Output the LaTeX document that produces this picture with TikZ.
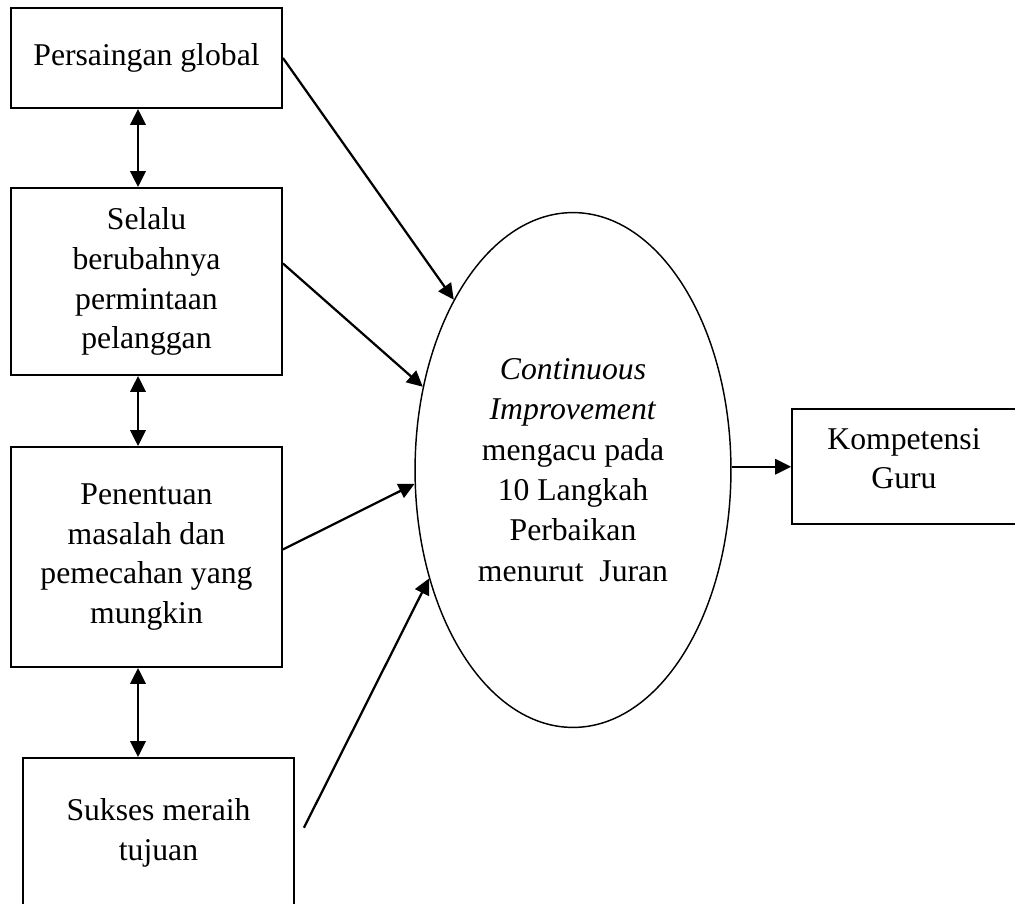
\documentclass[tikz,border=0pt]{standalone}
\usepackage{fontspec}
\setmainfont{Liberation Serif}
\usetikzlibrary{positioning,calc,shapes.geometric,arrows.meta}

\begin{document}
\begin{tikzpicture}[x=0.0133cm,y=-0.0133cm]
	\tikzset{
		box/.style={
			draw,
			line width=0.75pt,
			rectangle,
			minimum width=3.604cm,
			inner sep=0pt,
			align=center,
			font=\fontsize{12}{15.1}\selectfont
		},
		oval/.style={
			draw,
			line width=0.55pt,
			ellipse,
			minimum width=4.203cm,
			minimum height=6.85cm,
			inner sep=0pt,
			align=center,
			font=\fontsize{12}{15.3}\selectfont
		},
		arr/.style={
			line width=0.85pt,
			-{Triangle[length=6pt,width=5.8pt]}
		},
		darr/.style={
			line width=0.85pt,
			{Triangle[length=6pt,width=5.8pt]}-{Triangle[length=6pt,width=5.8pt]}
		}
	}
	\clip (0,0) rectangle (1015,903);
	\fill[white] (0,0) rectangle (1015,903);
	
	% ======= Kotak kiri =======
	\node[box, minimum height=1.33cm] (persaingan) at (146.5,58) {Persaingan global};
	\node[box, minimum height=2.487cm] (selalu) at (146.5,281.5) {Selalu\\berubahnya\\permintaan\\pelanggan};
	\node[box, minimum height=2.926cm] (penentuan) at (146.5,557) {Penentuan\\masalah dan\\pemecahan yang\\mungkin};
	\node[box, minimum height=1.995cm] (sukses) at (158.5,833) {Sukses meraih\\tujuan};
	
	% ======= Oval tengah =======
	\node[oval] (ci) at (573,470) {\textit{Continuous}\\\textit{Improvement}\\mengacu pada\\10 Langkah\\Perbaikan\\menurut~~Juran};
	
	% ======= Kotak kanan =======
	\node[box, minimum width=3.165cm, minimum height=1.536cm] (guru) at (911,466.75) {};
	\node[align=center, inner sep=0pt, font=\fontsize{12}{14.8}\selectfont] (gurutext) at (904,459) {Kompetensi\\Guru};
	
	% ======= Panah =======
	\draw[darr] ([xshift=-0.113cm]persaingan.south) -- ([xshift=-0.113cm]selalu.north);
	\draw[darr] ([xshift=-0.113cm]selalu.south) -- ([xshift=-0.113cm]penentuan.north);
	\draw[darr] ([xshift=-0.113cm]penentuan.south) -- ([xshift=-0.113cm]penentuan.south |- sukses.north);
	
	\draw[arr] (persaingan.east) -- (ci.125);
	\draw[arr] ([yshift=0.24cm]selalu.east) -- (ci.151);
	\draw[arr] ([yshift=0.1cm]penentuan.east) -- (ci.185);
	\draw[arr] ([xshift=0.12cm,yshift=0.07cm]sukses.east) -- (ci.217);
	\draw[arr] (ci.east |- guru.west) -- (guru.west);
\end{tikzpicture}
\end{document}
